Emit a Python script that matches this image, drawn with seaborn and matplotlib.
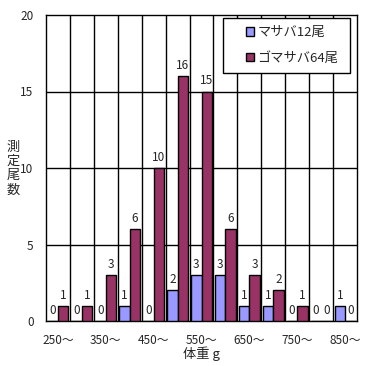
import matplotlib
matplotlib.use("Agg")
import matplotlib.pyplot as plt
import seaborn as sns
import pandas as pd
from matplotlib.patches import Patch, Rectangle

categories = ["250〜", "300〜", "350〜", "400〜", "450〜", "500〜", "550〜",
              "600〜", "650〜", "700〜", "750〜", "800〜", "850〜"]
masaba = [0, 0, 0, 1, 0, 2, 3, 3, 1, 1, 0, 0, 1]
gomasaba = [1, 1, 3, 6, 10, 16, 15, 6, 3, 2, 1, 0, 0]
series_names = ["マサバ12尾", "ゴマサバ64尾"]
colors = ["#9999FF", "#993366"]
ylabel_text = "測定尾数"

sns.set_style("white")
plt.rcParams['font.family'] = ['Noto Sans CJK JP', 'DejaVu Sans']

df = pd.DataFrame({
    "cat": categories * 2,
    "val": masaba + gomasaba,
    "series": [series_names[0]] * len(categories) + [series_names[1]] * len(categories),
})

W, H = 375, 366
fig = plt.figure(figsize=(3.75, 3.66), dpi=100)
ax = fig.add_axes([46/W, 45/H, 311/W, 306/H])

sns.barplot(data=df, x="cat", y="val", hue="series", hue_order=series_names,
            order=categories, palette=colors, width=0.88, edgecolor="black",
            linewidth=1, saturation=1, ax=ax, legend=False, zorder=3)

for cont in ax.containers:
    ax.bar_label(cont, fontsize=8.5, padding=3)

ax.set_ylim(0, 20)
ax.set_xlim(-0.5, len(categories) - 0.5)
ax.set_yticks([0, 5, 10, 15, 20])
ax.set_yticklabels(["0", "5", "10", "15", "20"], fontsize=8.5)
ax.set_xticks(range(0, len(categories), 2))
ax.set_xticklabels(categories[::2], fontsize=8.5)
ax.tick_params(axis='both', length=0)
ax.tick_params(axis='y', pad=9)
ax.tick_params(axis='x', pad=9)

for i in range(1, len(categories)):
    ax.axvline(i - 0.5, color="black", linewidth=1, zorder=1)
for yv in [5, 10, 15]:
    ax.axhline(yv, color="black", linewidth=1, zorder=1)
for s in ax.spines.values():
    s.set_color("black")
    s.set_linewidth(1)

ax.set_xlabel("体重 g", fontsize=9.5, labelpad=0)
ax.set_ylabel("")
for k, ch in enumerate(ylabel_text):
    fig.text(13.5/W, 1 - (147 + 14.3 * k)/H, ch, fontsize=9.5, ha="center", va="center")

# legend frame
frame = Rectangle((223/W, 1 - 73/H), 127/W, 55/H, transform=fig.transFigure,
                  facecolor="white", edgecolor="black", linewidth=1, zorder=4)
fig.patches.append(frame)
handles = [Patch(facecolor=c, edgecolor="black", label=n) for c, n in zip(colors, series_names)]
leg = fig.legend(handles=handles, loc="upper left", bbox_to_anchor=(246/W, 1 - 26/H),
                 fontsize=9.5, frameon=False, handlelength=0.6, handleheight=0.6,
                 handletextpad=0.25, labelspacing=0.95, borderpad=0, borderaxespad=0)
leg.set_zorder(5)

fig.savefig("out.png", dpi=100)
